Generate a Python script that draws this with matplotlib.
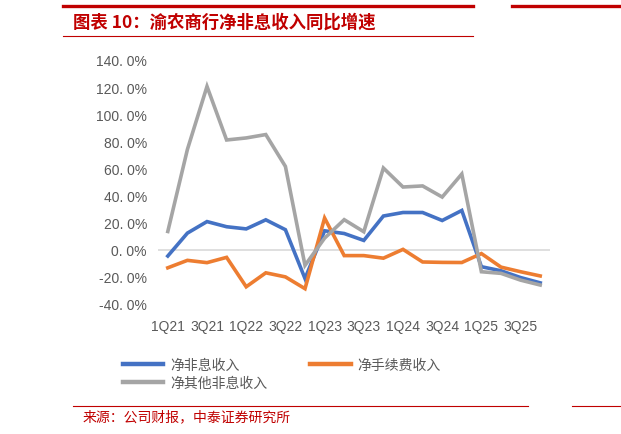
import matplotlib
matplotlib.use("Agg")
import matplotlib.pyplot as plt
from matplotlib.lines import Line2D

plt.rcParams['font.family'] = ['Noto Sans CJK SC', 'DejaVu Sans']

quarters = ["1Q21", "2Q21", "3Q21", "4Q21", "1Q22", "2Q22", "3Q22", "4Q22",
            "1Q23", "2Q23", "3Q23", "4Q23", "1Q24", "2Q24", "3Q24", "4Q24",
            "1Q25", "2Q25", "3Q25", "4Q25"]
net_nonint = [-4.6, 12.3, 20.8, 17.0, 15.4, 22.1, 14.8, -21.2,
              14.0, 12.0, 6.9, 24.9, 27.5, 27.5, 21.6, 29.0,
              -12.5, -15.5, -20.5, -24.4]
net_fee = [-13.3, -7.8, -9.5, -5.6, -27.3, -17.0, -20.0, -28.7,
           23.4, -4.3, -4.3, -6.2, 0.3, -9.0, -9.3, -9.4,
           -2.8, -12.8, -16.2, -19.3]
net_other = [13.5, 74.0, 120.5, 81.0, 82.5, 85.0, 61.5, -11.5,
             8.6, 22.2, 13.3, 60.3, 46.3, 47.1, 38.9, 55.9,
             -16.2, -17.4, -22.4, -26.0]
series_names = ["净非息收入", "净手续费收入", "净其他非息收入"]
y_ticks = [-40, -20, 0, 20, 40, 60, 80, 100, 120, 140]
title_text = "图表 10：渝农商行净非息收入同比增速"
source_text = "来源：公司财报，中泰证券研究所"

W, H = 621, 435
fig = plt.figure(figsize=(W / 100, H / 100), dpi=100)

def fx(px):
    return px / W

def fy(py):
    return 1 - py / H

ax = fig.add_axes([fx(158), fy(305), fx(550) - fx(158), fy(61) - fy(305)])

x = list(range(len(quarters)))
blue, orange, gray = "#4472C4", "#ED7D31", "#A5A5A5"
ax.axhline(0, color="#D9D9D9", lw=1.2, zorder=1)
lb, = ax.plot(x, net_nonint, color=blue, lw=2.6, solid_joinstyle='miter', zorder=3)
lo, = ax.plot(x, net_fee, color=orange, lw=2.6, solid_joinstyle='miter', zorder=3)
lg, = ax.plot(x, net_other, color=gray, lw=2.6, solid_joinstyle='miter', zorder=3)

ax.set_xlim(-0.5, len(quarters) - 0.5)
ax.set_ylim(-40, 140)
ax.set_yticks(y_ticks)
ax.set_yticklabels([f"{v:.0f}. 0%" for v in y_ticks], fontfamily="Liberation Sans",
                   fontsize=10, color="#595959")
ax.set_xticks(x[::2])
ax.set_xticklabels(quarters[::2], fontfamily="Liberation Sans", fontsize=10, color="#595959")
ax.tick_params(axis='both', length=0)
ax.tick_params(axis='y', pad=8)
ax.tick_params(axis='x', pad=11)
for s in ax.spines.values():
    s.set_visible(False)

leg_handles = [Line2D([], [], color=blue, lw=3.2),
               Line2D([], [], color=gray, lw=3.2),
               Line2D([], [], color=orange, lw=3.2)]
leg_labels = [series_names[0], series_names[2], series_names[1]]
fig.legend(leg_handles, leg_labels, ncol=2, loc="upper left",
           bbox_to_anchor=(fx(123), fy(359)), bbox_transform=fig.transFigure,
           frameon=False, fontsize=10, handlelength=2.9, handletextpad=0.5,
           columnspacing=3.1, labelspacing=0.25, borderpad=0, borderaxespad=0,
           labelcolor="#595959")

red = "#C00000"
fig.add_artist(Line2D([fx(63), fx(473)], [fy(7), fy(7)], color=red, lw=2.4,
                      transform=fig.transFigure))
fig.add_artist(Line2D([fx(512), fx(621)], [fy(7), fy(7)], color=red, lw=2.4,
                      transform=fig.transFigure))
fig.add_artist(Line2D([fx(63), fx(473)], [fy(37), fy(37)], color=red, lw=0.8,
                      transform=fig.transFigure))
fig.add_artist(Line2D([fx(73), fx(528)], [fy(407), fy(407)], color=red, lw=0.8,
                      transform=fig.transFigure))
fig.add_artist(Line2D([fx(572), fx(621)], [fy(407), fy(407)], color=red, lw=0.8,
                      transform=fig.transFigure))

fig.text(fx(73), fy(23), title_text, fontsize=12.5, fontweight="bold", color=red,
         ha="left", va="center")
fig.text(fx(83), fy(417), source_text, fontsize=10, color=red, ha="left", va="center")

fig.savefig("out.png", dpi=100)
